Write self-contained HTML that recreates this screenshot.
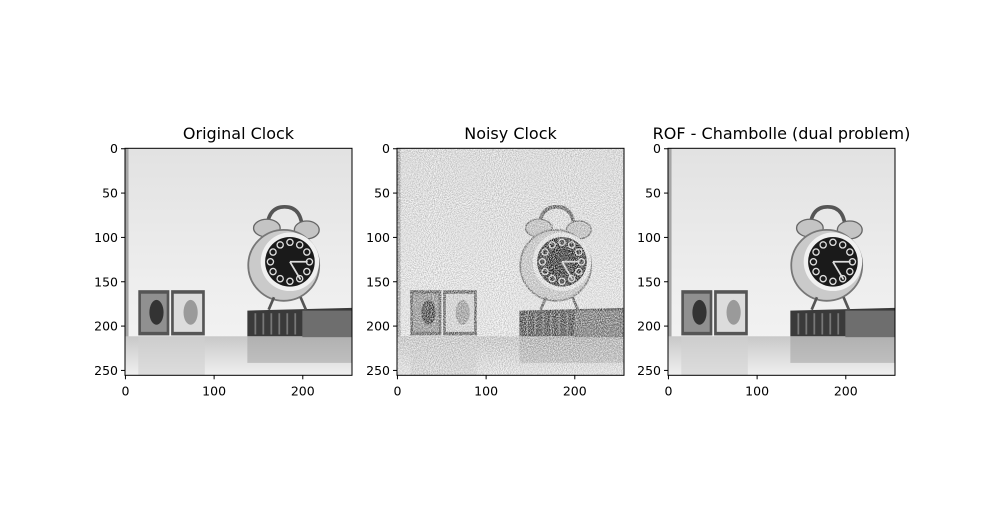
<!DOCTYPE html>
<html><head><meta charset="utf-8"><style>
body{margin:0;background:#fff;}
svg text{font-family:"DejaVu Sans","Liberation Sans",sans-serif;}
</style></head><body>
<svg id="fig" width="996" height="517" viewBox="0 0 996 517" xmlns="http://www.w3.org/2000/svg">
<defs>
<linearGradient id="bg" x1="0" y1="0" x2="0" y2="1"><stop offset="0" stop-color="#e2e2e2"/><stop offset="0.6" stop-color="#eeeeee"/><stop offset="1" stop-color="#f4f4f4"/></linearGradient>
<linearGradient id="tbl" x1="0" y1="0" x2="0" y2="1"><stop offset="0" stop-color="#c8c8c8"/><stop offset="1" stop-color="#f0f0f0"/></linearGradient>
<filter id="noise" x="0" y="0" width="100%" height="100%"><feTurbulence type="fractalNoise" baseFrequency="0.9" numOctaves="1" seed="3"/><feColorMatrix type="matrix" values="0 0 0 0 0  0 0 0 0 0  0 0 0 0 0  -2.2 0 0 0 1.4"/></filter>
<filter id="noise2" x="0" y="0" width="100%" height="100%"><feTurbulence type="fractalNoise" baseFrequency="0.85" numOctaves="1" seed="9"/><feColorMatrix type="matrix" values="0 0 0 0 1  0 0 0 0 1  0 0 0 0 1  2.4 0 0 0 -0.8"/></filter>
</defs>
</svg>
<script>
const titles=["Original Clock","Noisy Clock","ROF - Chambolle (dual problem)"];
const panelLeft=[125,397,668];
const xTicks=[0,100,200];
const yTicks=[0,50,100,150,200,250];
const imgSize=256;
const NS="http://www.w3.org/2000/svg";
const svg=document.getElementById('fig');
const top0=148.3, W=227;
const sc=W/imgSize;
function mk(t,a,p){const e=document.createElementNS(NS,t);for(const k in a)e.setAttribute(k,a[k]);(p||svg).appendChild(e);return e;}
function scene(g){
  mk('rect',{x:0,y:0,width:256,height:256,fill:'url(#bg)'},g);
  mk('rect',{x:0,y:0,width:4,height:256,fill:'#a5a5a5'},g);
  mk('rect',{x:0,y:212,width:256,height:44,fill:'url(#tbl)'},g);
  mk('rect',{x:15,y:212,width:75,height:44,fill:'#d0d0d0',opacity:0.6},g);
  mk('rect',{x:138,y:212,width:118,height:30,fill:'#999',opacity:0.5},g);
  [[15,50],[52,90]].forEach(([a,b],i)=>{
    mk('rect',{x:a,y:160,width:b-a,height:51,fill:'#555'},g);
    mk('rect',{x:a+3,y:164,width:b-a-6,height:43,fill:i?'#dcdcdc':'#909090'},g);
    mk('ellipse',{cx:(a+b)/2+3,cy:185,rx:8,ry:14,fill:i?'#9a9a9a':'#333'},g);
  });
  mk('polygon',{points:'138,183 256,180 256,212 138,212',fill:'#3a3a3a'},g);
  mk('rect',{x:200,y:183,width:56,height:30,fill:'#6e6e6e'},g);
  for(let i=0;i<6;i++)mk('rect',{x:146+i*9,y:186,width:2,height:24,fill:'#777'},g);
  mk('path',{d:'M160,94 Q160,66 180,66 Q200,66 200,94',fill:'none',stroke:'#555','stroke-width':4},g);
  mk('ellipse',{cx:160,cy:90,rx:15,ry:10,fill:'#c4c4c4',stroke:'#666','stroke-width':1.5},g);
  mk('ellipse',{cx:205,cy:92,rx:14,ry:10,fill:'#c4c4c4',stroke:'#666','stroke-width':1.5},g);
  mk('circle',{cx:179,cy:132,r:40,fill:'#cacaca',stroke:'#777','stroke-width':2},g);
  mk('circle',{cx:186,cy:128,r:33,fill:'#f0f0f0'},g);
  mk('circle',{cx:186,cy:128,r:28,fill:'#1a1a1a'},g);
  for(let i=0;i<12;i++){const a=i*Math.PI/6;mk('circle',{cx:186+22*Math.sin(a),cy:128-22*Math.cos(a),r:3.5,fill:'none',stroke:'#ddd','stroke-width':1.5},g);}
  mk('line',{x1:186,y1:128,x2:206,y2:128,stroke:'#ddd','stroke-width':2},g);
  mk('line',{x1:186,y1:128,x2:198,y2:148,stroke:'#ddd','stroke-width':2},g);
  mk('line',{x1:168,y1:168,x2:162,y2:182,stroke:'#555','stroke-width':3},g);
  mk('line',{x1:198,y1:168,x2:204,y2:182,stroke:'#555','stroke-width':3},g);
}
titles.forEach((t,i)=>{
  const L=panelLeft[i];
  const g=mk('g',{transform:`translate(${L},${top0}) scale(${sc})`});
  
  
  scene(g);
  if(i===1){
    mk('rect',{x:0,y:0,width:256,height:256,fill:'#fff',filter:'url(#noise2)',opacity:0.9},g);
    mk('rect',{x:0,y:0,width:256,height:256,fill:'#000',filter:'url(#noise)',opacity:0.25},g);
  }
  const f=mk('rect',{x:L,y:top0,width:W,height:W,fill:'none',stroke:'#000','stroke-width':1});
  
  
  const tt=mk('text',{x:L+W/2,y:139,'text-anchor':'middle','font-size':16,fill:'#000'});tt.textContent=t;
  
  
  xTicks.forEach(v=>{const x=L+(v+0.5)*sc;
    mk('line',{x1:x,y1:top0+W,x2:x,y2:top0+W+4,stroke:'#000'});
    const tx=mk('text',{x:x,y:top0+W+20,'text-anchor':'middle','font-size':12.5});tx.textContent=v;
    
    });
  yTicks.forEach(v=>{const y=top0+(v+0.5)*sc;
    mk('line',{x1:L-4,y1:y,x2:L,y2:y,stroke:'#000'});
    const ty=mk('text',{x:L-7,y:y+4.5,'text-anchor':'end','font-size':12.5});ty.textContent=v;
    
    });
});
</script>
</body></html>
